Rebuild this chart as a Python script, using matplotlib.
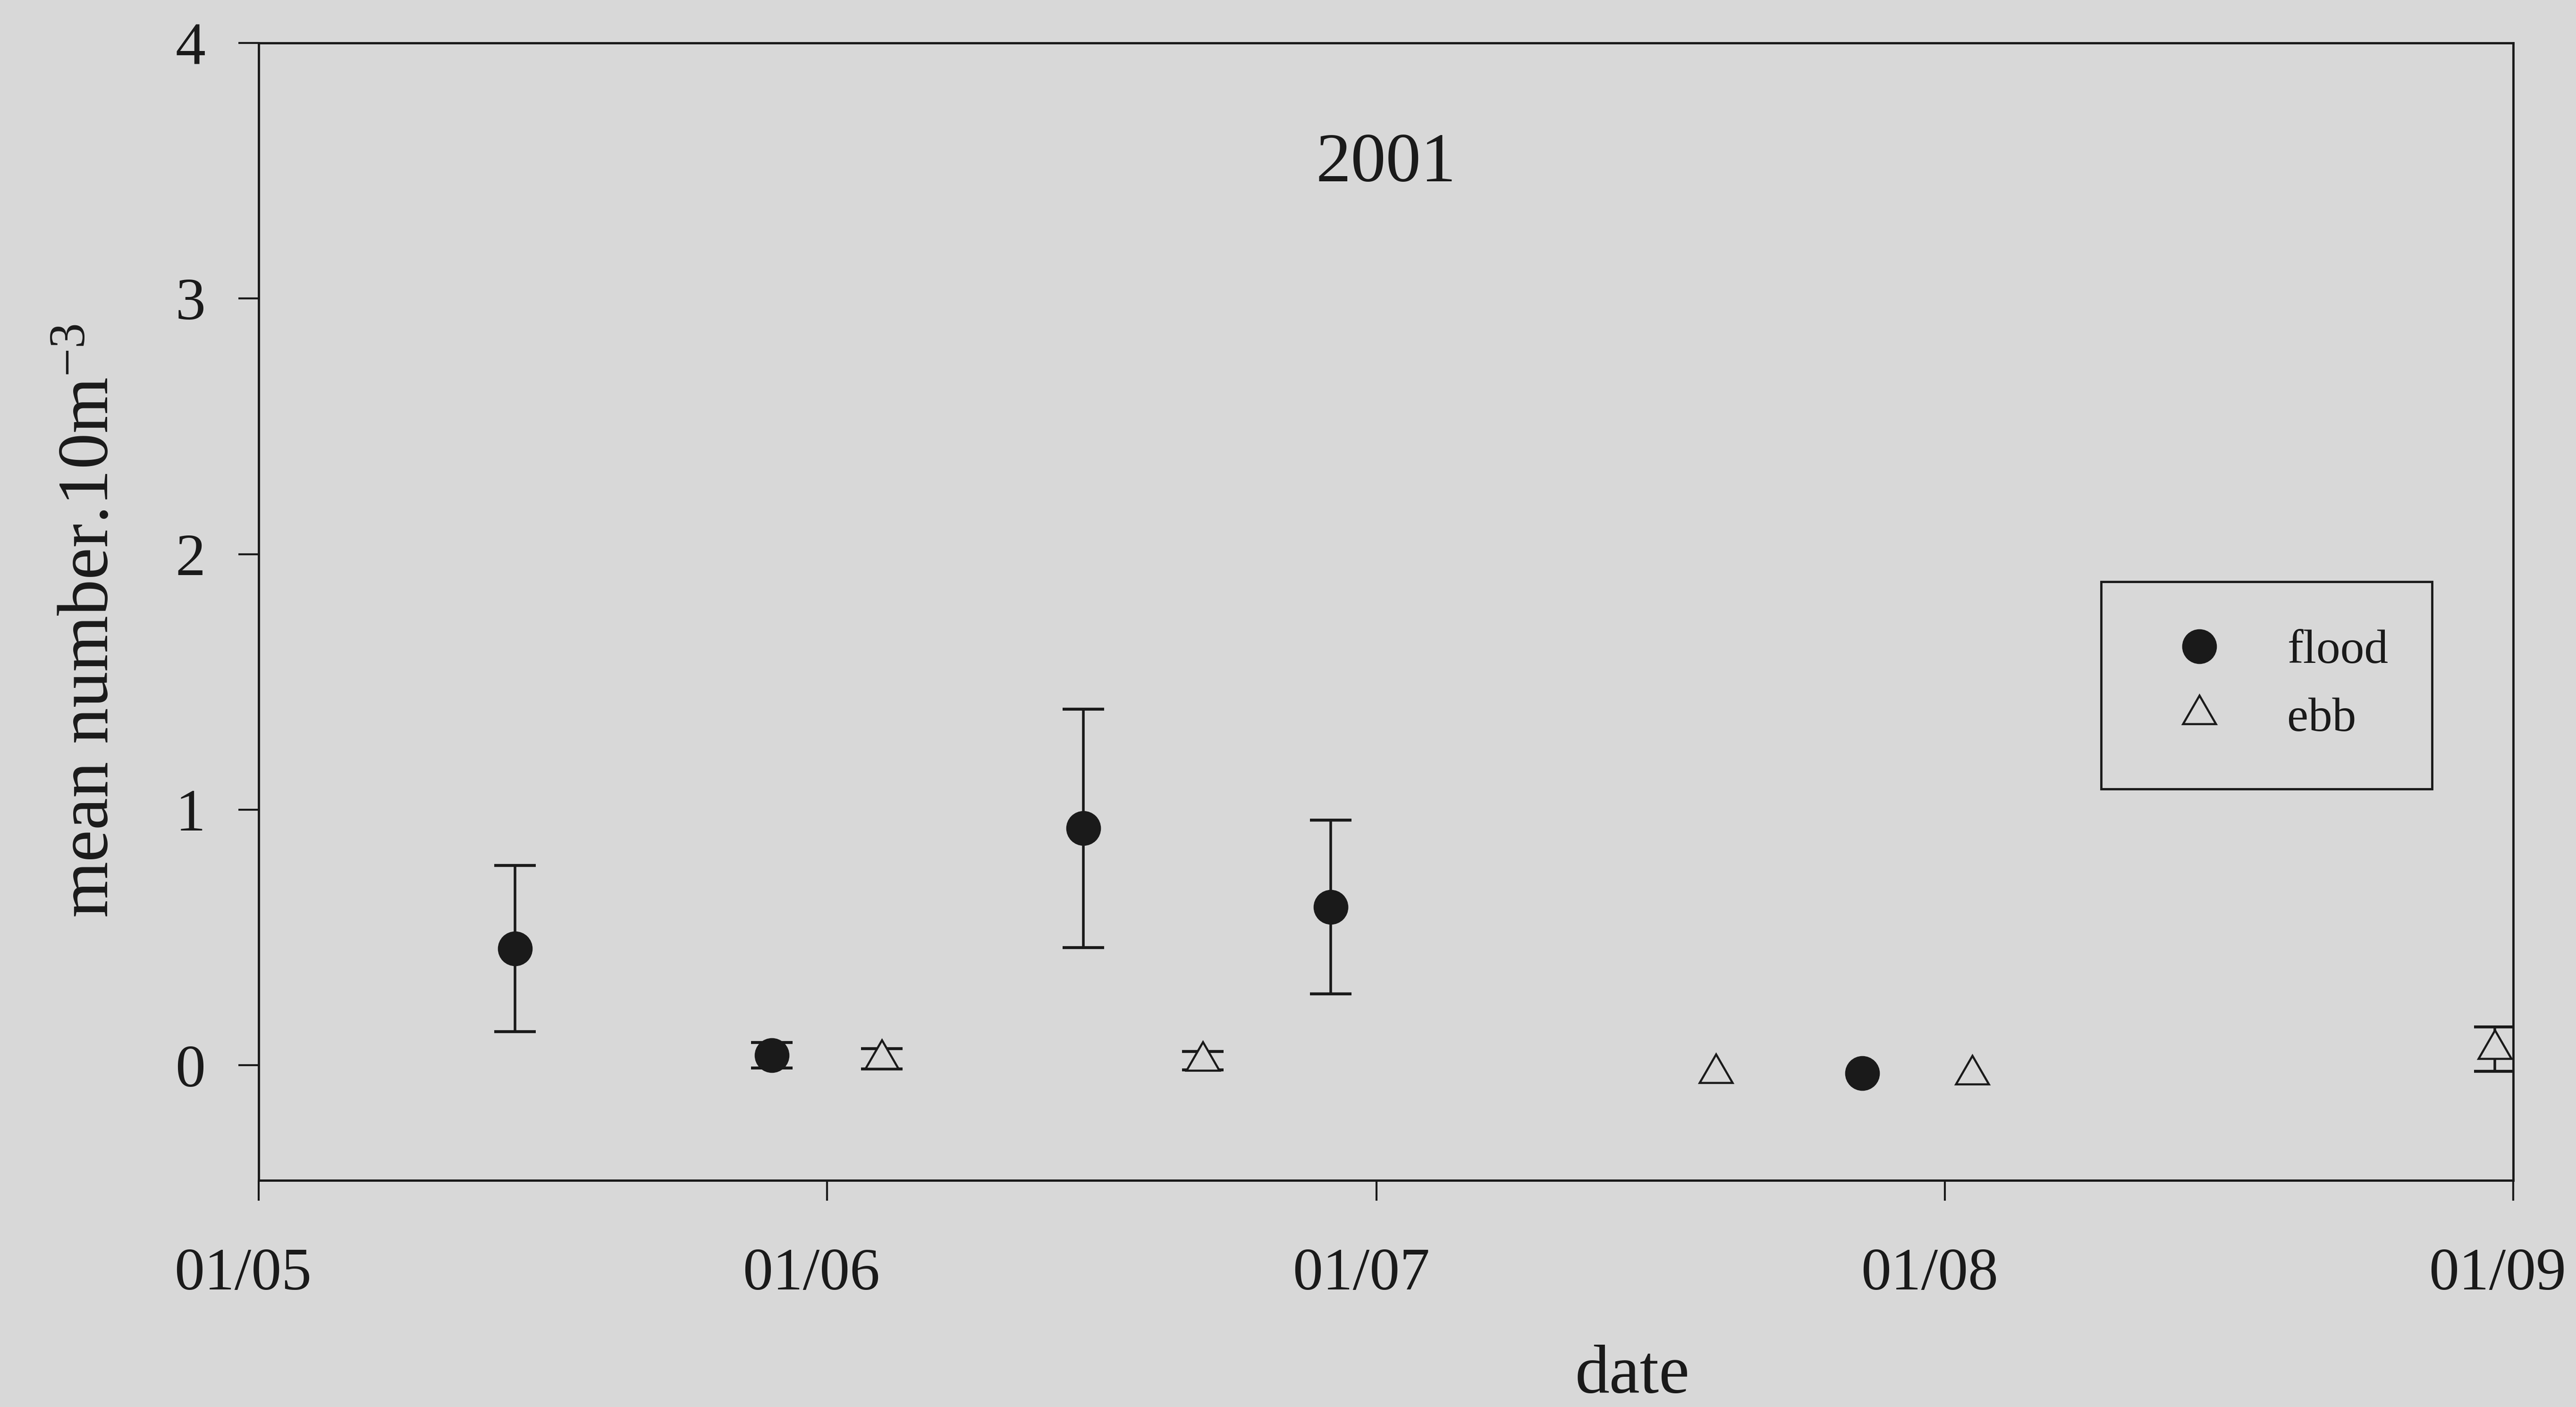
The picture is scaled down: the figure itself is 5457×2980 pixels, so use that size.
import numpy as np
import matplotlib
matplotlib.use("Agg")
import matplotlib.pyplot as plt
import matplotlib.dates as mdates
import matplotlib.transforms as mtransforms

# data (2001 season)
flood_dates = np.array(["2001-05-15", "2001-05-29", "2001-06-15",
                        "2001-06-28T12", "2001-07-27T12"], dtype="datetime64[h]")
flood_mean = np.array([0.457, 0.04, 0.927, 0.62, -0.03])
flood_err = np.array([0.325, 0.05, 0.467, 0.34, 0.0])

ebb_dates = np.array(["2001-06-04", "2001-06-21T12", "2001-07-19T12",
                      "2001-08-02T12", "2001-08-31"], dtype="datetime64[h]")
ebb_mean = np.array([0.025, 0.018, -0.031, -0.037, 0.063])
ebb_err = np.array([0.04, 0.036, 0.0, 0.0, 0.087])

month_ticks = np.array(["2001-05-01", "2001-06-01", "2001-07-01",
                        "2001-08-01", "2001-09-01"], dtype="datetime64[D]")
y_ticks = [0, 1, 2, 3, 4]

BG = "#d8d8d8"
INK = "#1a1a1a"

plt.rcParams["font.family"] = ["Liberation Serif", "DejaVu Serif"]
plt.rcParams["mathtext.fontset"] = "custom"
plt.rcParams["mathtext.rm"] = "Liberation Serif"
plt.rcParams["mathtext.it"] = "Liberation Serif:italic"

fig = plt.figure(figsize=(54.57, 29.80), dpi=100, facecolor=BG)
ax = fig.add_axes([0.1004, 0.1611, 0.8752, 0.8084], facecolor=BG)

# error bars first, markers on top (hollow triangles hide the bar)
m = flood_err > 0
ax.errorbar(flood_dates[m], flood_mean[m], yerr=flood_err[m], fmt="none",
            ecolor=INK, elinewidth=4, capsize=32, capthick=4.5, zorder=2)
m = ebb_err > 0
ax.errorbar(ebb_dates[m], ebb_mean[m], yerr=ebb_err[m], fmt="none",
            ecolor=INK, elinewidth=4, capsize=32, capthick=4.5, zorder=2)

h_flood, = ax.plot(flood_dates, flood_mean, linestyle="none", marker="o",
                   markersize=52, color=INK, markeredgecolor=INK, zorder=3,
                   label="flood")
h_ebb, = ax.plot(ebb_dates, ebb_mean, linestyle="none", marker=(3, 0, 0),
                 markersize=58, markerfacecolor=BG, markeredgecolor=INK,
                 markeredgewidth=3.2, zorder=3, label="ebb")

ax.set_xlim(month_ticks[0], month_ticks[-1])
ax.set_ylim(-0.45, 4)
ax.set_xticks(month_ticks)
ax.xaxis.set_major_formatter(mdates.DateFormatter("%d/%m"))
ax.set_yticks(y_ticks)

for side in ["left", "right", "top", "bottom"]:
    ax.spines[side].set_linewidth(3.5)
    ax.spines[side].set_color(INK)

ax.tick_params(axis="both", direction="out", length=31, width=3, color=INK,
               labelsize=92, labelcolor=INK)
ax.tick_params(axis="x", pad=72)
ax.tick_params(axis="y", pad=50)

# x labels sit a little left of their ticks in the original
shift = mtransforms.ScaledTranslation(-0.33, 0, fig.dpi_scale_trans)
for lab in ax.get_xticklabels():
    lab.set_transform(lab.get_transform() + shift)

ax.text(0.5, 0.8785, "2001", transform=ax.transAxes, ha="center",
        va="baseline", fontsize=107, color=INK)

fig.text(3458 / 5457, 1 - 2950 / 2980, "date", ha="center", va="baseline",
         fontsize=105, color=INK)
fig.text(192 / 5457, 1 - 1315 / 2980, r"mean number.10m$^{-3}$",
         rotation=90, ha="center", va="center", fontsize=110, color=INK)

leg = ax.legend(handles=[h_flood, h_ebb], loc="upper left",
                bbox_to_anchor=(4451 / 5457, 1 - 1672 / 2980, 701 / 5457, 440 / 2980),
                bbox_transform=fig.transFigure, mode="expand", borderaxespad=0,
                numpoints=1, fontsize=73, handlelength=2.1, handletextpad=0.79,
                borderpad=1.0, labelspacing=0.5, fancybox=False,
                framealpha=1, facecolor=BG, edgecolor=INK)
leg.get_frame().set_linewidth(3.5)
for t in leg.get_texts():
    t.set_color(INK)

fig.savefig("out.png", dpi=100, facecolor=BG)
